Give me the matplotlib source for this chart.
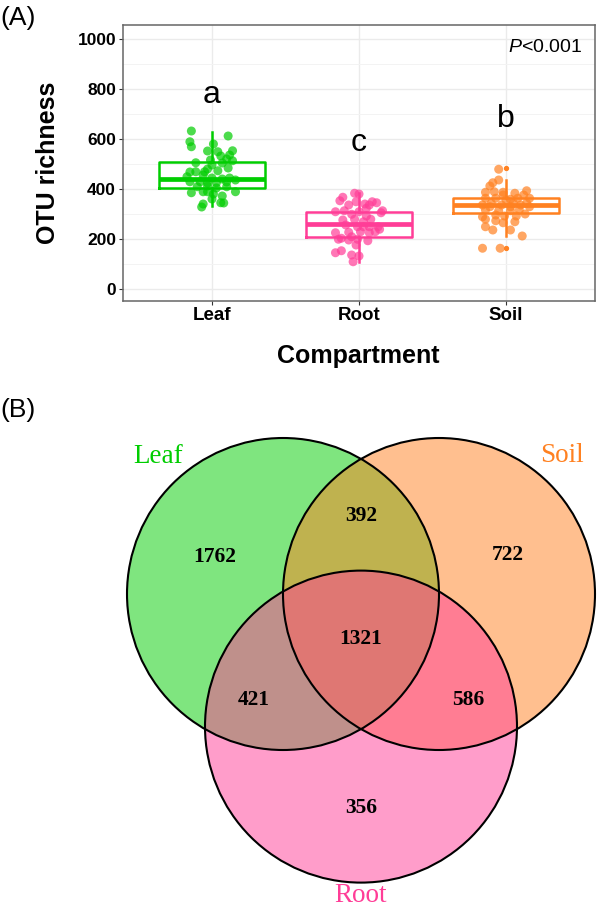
import numpy as np
import matplotlib
matplotlib.use("Agg")
import matplotlib.pyplot as plt
from matplotlib.patches import Circle

plt.rcParams["font.family"] = ["Liberation Sans", "DejaVu Sans"]
plt.rcParams["mathtext.fontset"] = "custom"
plt.rcParams["mathtext.it"] = "Liberation Sans:italic"
plt.rcParams["mathtext.rm"] = "Liberation Sans"

# ---------------- panel A: OTU richness per compartment ----------------
compartments = ["Leaf", "Root", "Soil"]
colors = ["#00CD00", "#FF3D97", "#FF8121"]

leaf_otu = [632, 612, 589, 569, 580, 552, 549, 553, 532, 536, 516, 520, 513, 505,
            496, 504, 480, 473, 468, 469, 484, 449, 456, 444, 440, 444, 429, 429,
            424, 425, 428, 436, 409, 412, 404, 409, 385, 389, 389, 380, 360, 372,
            345, 344, 340, 328, 389, 469]
leaf_jit = [-0.14, 0.11, -0.15, -0.14, 0.01, -0.03, 0.04, 0.14, 0.06, 0.12, -0.01, 0.10,
            0.14, -0.11, 0.00, 0.07, -0.03, 0.04, -0.15, -0.11, 0.11, -0.17, -0.06, 0.00,
            0.07, 0.12, -0.15, -0.08, -0.03, 0.03, 0.10, 0.16, -0.10, -0.03, 0.03, 0.10,
            -0.14, -0.06, 0.16, 0.01, 0.00, 0.07, 0.06, 0.08, -0.06, -0.07, -0.03, -0.05]

root_otu = [383, 380, 367, 353, 336, 349, 340, 336, 345, 349, 309, 299, 309, 292,
            305, 276, 279, 269, 279, 256, 249, 249, 249, 225, 227, 229, 225, 239,
            199, 196, 199, 193, 209, 145, 153, 136, 132, 109, 313, 313, 249, 203,
            176, 229, 323]
root_jit = [-0.03, 0.00, -0.11, -0.13, -0.07, -0.02, 0.04, 0.07, 0.12, 0.09, -0.16, -0.05,
            0.00, 0.05, 0.15, -0.11, -0.03, 0.03, 0.08, -0.09, -0.01, 0.07, 0.13, -0.16,
            -0.07, 0.01, 0.07, 0.14, -0.14, -0.07, -0.01, 0.06, -0.05, -0.16, -0.12, -0.05,
            0.00, -0.04, -0.10, 0.16, 0.03, -0.12, -0.02, 0.11, 0.05]

soil_otu = [479, 436, 425, 412, 387, 389, 387, 383, 393, 376, 363, 363, 359, 363,
            336, 343, 336, 343, 336, 329, 316, 313, 313, 316, 289, 296, 292, 292,
            300, 279, 273, 265, 249, 236, 236, 212, 163, 163, 356, 363, 329, 376,
            329, 343, 269]
soil_jit = [-0.05, -0.05, -0.09, -0.11, -0.14, -0.08, -0.02, 0.06, 0.14, 0.12, -0.14, -0.07,
            0.03, 0.16, -0.16, -0.10, -0.03, 0.05, 0.10, 0.16, -0.14, -0.05, 0.03, 0.09,
            -0.16, -0.07, -0.01, 0.07, 0.13, -0.14, -0.07, -0.02, -0.14, -0.09, 0.03, 0.11,
            -0.16, -0.04, 0.00, 0.08, -0.11, -0.02, 0.03, 0.14, 0.06]

# box statistics: lower whisker, Q1, median, Q3, upper whisker
leaf_box = [332, 404, 440, 508, 628]
root_box = [110, 208, 260, 308, 383]
soil_box = [212, 303, 336, 365, 436]
leaf_out, root_out, soil_out = [], [], [483, 165]

sig_letters = ["a", "c", "b"]
letter_y = [745, 553, 648]
p_text = r"$\mathit{P}$<0.001"

# ---------------- panel B: shared OTUs (Venn) ----------------
venn_names = ["Leaf", "Soil", "Root"]
venn_fill = ["#00CD00", "#FF8121", "#FF3D97"]
region_labels = ["1762", "392", "722", "1321", "421", "586", "356"]

fig = plt.figure(figsize=(6.0, 9.09), dpi=100)

ax = fig.add_axes([123 / 600, 1 - 301 / 909, 472 / 600, 276 / 909])
pos = [1, 2, 3]
groups = [(leaf_otu, leaf_jit), (root_otu, root_jit), (soil_otu, soil_jit)]
boxes = [leaf_box, root_box, soil_box]
outs = [leaf_out, root_out, soil_out]

for i, (vals, jit) in enumerate(groups):
    ax.scatter(pos[i] + np.array(jit), vals, s=42, color=colors[i], alpha=0.7,
               edgecolors="none", zorder=4)

stats = []
for b, o, name in zip(boxes, outs, compartments):
    stats.append({"whislo": b[0], "q1": b[1], "med": b[2], "q3": b[3],
                  "whishi": b[4], "fliers": o, "label": name})
bp = ax.bxp(stats, positions=pos, widths=0.72, showcaps=False, showfliers=True,
            boxprops=dict(linewidth=1.8), medianprops=dict(linewidth=3.4),
            whiskerprops=dict(linewidth=1.8), zorder=3)
for i in range(3):
    bp["boxes"][i].set_color(colors[i])
    bp["medians"][i].set_color(colors[i])
    bp["whiskers"][2 * i].set_color(colors[i])
    bp["whiskers"][2 * i + 1].set_color(colors[i])
    bp["fliers"][i].set(marker="o", markersize=2.8, markerfacecolor=colors[i],
                        markeredgecolor=colors[i])

for i, letter in enumerate(sig_letters):
    ax.text(pos[i], letter_y[i], letter, ha="center", va="baseline", fontsize=23)
ax.text(0.972, 0.918, p_text, transform=ax.transAxes, ha="right", va="center",
        fontsize=14)

ax.set_xlim(0.395, 3.605)
ax.set_ylim(-48, 1056)
ax.set_xticks(pos)
ax.set_xticklabels(compartments, fontsize=13.5, fontweight="bold")
ax.set_yticks(np.arange(0, 1001, 200))
ax.set_yticks(np.arange(100, 1000, 200), minor=True)
for lab in ax.get_yticklabels():
    lab.set_fontweight("bold")
    lab.set_fontsize(12.5)
ax.tick_params(axis="both", which="major", direction="out", length=3, width=0.8,
               color="#333333", pad=2)
ax.tick_params(axis="y", which="minor", length=0)
ax.tick_params(axis="x", pad=1)
ax.grid(which="major", color="#EBEBEB", linewidth=1.0, zorder=0)
ax.grid(which="minor", axis="y", color="#F3F3F3", linewidth=0.7, zorder=0)
ax.set_axisbelow(True)
for sp in ax.spines.values():
    sp.set_color("#666666")
    sp.set_linewidth(1.1)

ax.text(-0.158, 0.5, "OTU richness", transform=ax.transAxes, rotation=90,
        ha="center", va="center", fontsize=18, fontweight="bold")
ax.text(0.498, -0.199, "Compartment", transform=ax.transAxes, ha="center",
        va="center", fontsize=18, fontweight="bold")

fig.text(0.0, 1 - 17.5 / 909, "(A)", ha="left", va="center", fontsize=19)
fig.text(0.0, 1 - 410 / 909, "(B)", ha="left", va="center", fontsize=19)

# Venn diagram, unit = circle radius
vx = fig.add_axes([0, 0, 1, 529 / 909])
r = 156.0
vx.set_xlim(-361 / r, 239 / r)
vx.set_ylim((594 - 909) / r, (594 - 380) / r)
vx.axis("off")

centers = [(-0.5, 0.0), (0.5, 0.0), (0.0, -0.85)]
for c, col in zip(centers, venn_fill):
    vx.add_patch(Circle(c, 1.0, facecolor=col, alpha=0.5, edgecolor="none"))
for c in centers:
    vx.add_patch(Circle(c, 1.0, facecolor="none", edgecolor="black", linewidth=1.5))

region_xy = [(-0.94, 0.24), (0.0, 0.50), (0.94, 0.25), (0.0, -0.29),
             (-0.69, -0.68), (0.69, -0.68), (0.0, -1.37)]
for (x, y), t in zip(region_xy, region_labels):
    vx.text(x, y, t, ha="center", va="center", fontsize=15.5, fontweight="bold",
            family="Liberation Serif")

name_xy = [(-1.30, 0.88), (1.29, 0.89), (0.0, -1.93)]
for (x, y), t, col in zip(name_xy, venn_names, venn_fill):
    vx.text(x, y, t, ha="center", va="center", fontsize=19.5, color=col,
            family="Liberation Serif", clip_on=False)

fig.savefig("out.png", dpi=100)
